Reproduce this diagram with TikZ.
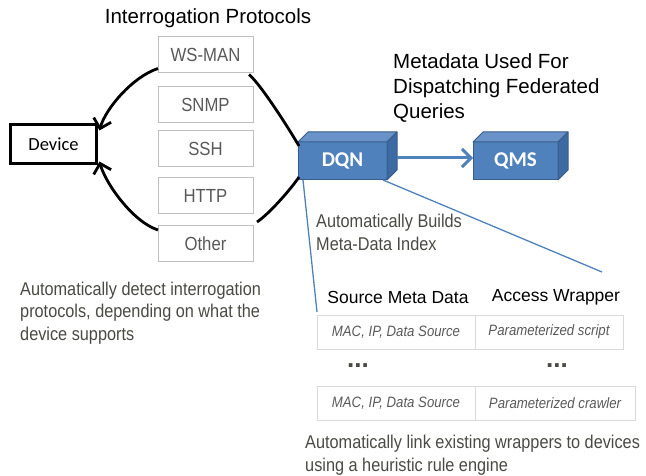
\documentclass[tikz,border=0pt]{standalone}
\usepackage{fontspec}
\setmainfont{Liberation Sans}
\newfontfamily\narrowsans[FakeStretch=0.88]{Liberation Sans}
\newfontfamily\calibrisans{Carlito}
\usetikzlibrary{arrows.meta}

\definecolor{cubeblue}{HTML}{4F81BD}
\definecolor{cubetop}{HTML}{6892C8}
\definecolor{cubeside}{HTML}{3D6AA3}
\definecolor{cubeedge}{HTML}{385D8A}
\definecolor{boxgray}{HTML}{BFBFBF}
\definecolor{cellgray}{HTML}{D9D9D9}
\definecolor{labelgray}{HTML}{595959}
\definecolor{notegray}{HTML}{4A4A44}

\tikzset{
  protobox/.style={draw=boxgray, line width=1pt, minimum width=95pt, minimum height=36pt,
    inner sep=0pt, outer sep=0pt, text=labelgray, font=\narrowsans\fontsize{19}{21}\selectfont},
  devbox/.style={draw=black, line width=2.8pt, minimum width=86pt, minimum height=39pt,
    inner sep=0pt, outer sep=0pt, font=\calibrisans\fontsize{18.5}{20}\selectfont},
  cubefront/.style={fill=cubeblue, draw=cubeedge, line width=1pt, minimum width=89pt,
    minimum height=38pt, inner sep=0pt, outer sep=0pt, text=white,
    font=\calibrisans\bfseries\fontsize{21}{23}\selectfont},
  cubeface/.style={draw=cubeedge, line width=1pt, line join=round},
  cellbox/.style={draw=cellgray, line width=1pt, minimum height=34pt, inner sep=0pt,
    outer sep=0pt, text=labelgray, font=\narrowsans\itshape\fontsize{15}{17}\selectfont},
  note/.style={anchor=west, align=left, inner sep=0pt, text=notegray,
    font=\narrowsans\fontsize{18.5}{22.5}\selectfont},
  headtext/.style={inner sep=0pt, font=\fontsize{17.5}{20}\selectfont},
  dots/.style={inner sep=0pt, text=notegray, font=\bfseries\fontsize{26}{28}\selectfont},
  protoarrow/.style={line width=2.8pt, -{Straight Barb[length=9pt,width=18pt]}},
  protoline/.style={line width=2.8pt},
  bluearrow/.style={draw=cubeblue, line width=3pt, -{Straight Barb[length=9pt,width=18pt]}},
  bluelink/.style={draw=cubeblue, line width=1.3pt},
}

\begin{document}
\begin{tikzpicture}[x=1pt,y=-1pt]
  \useasboundingbox (0,0) rectangle (646,476);

  % Interrogation protocols
  \node[inner sep=0pt, font=\fontsize{20.5}{23}\selectfont] (protoTitle) at (208,18) {Interrogation Protocols};
  \foreach \name/\lbl/\y in {wsman/WS-MAN/54.5, snmp/SNMP/104.5, ssh/SSH/148.5, http/HTTP/196, other/Other/244}
    \node[protobox] (\name) at (205.5,\y) {\lbl};

  \node[devbox] (device) at (53.5,144) {Device};

  % DQN and QMS blocks
  \node[cubefront] (dqn) at (342.5,161) {DQN};
  \node[cubefront, minimum width=85pt] (qms) at (515.5,161) {QMS};
  \foreach \c in {dqn,qms} {
    \draw[cubeface, fill=cubetop] (\c.north west) -- ([shift={(10,-10)}]\c.north west)
      -- ([shift={(10,-10)}]\c.north east) -- (\c.north east) -- cycle;
    \draw[cubeface, fill=cubeside] (\c.north east) -- ([shift={(10,-10)}]\c.north east)
      -- ([shift={(10,-10)}]\c.south east) -- (\c.south east) -- cycle;
  }
  \draw[bluearrow] ([shift={(10,-3)}]dqn.east) -- ([yshift=3pt]qms.west);

  % Curved connectors round the protocols
  \draw[protoarrow] ([yshift=4pt]wsman.south west) .. controls +(-25,8) and +(6,-22) .. ([shift={(3,6)}]device.north east);
  \draw[protoarrow] ([yshift=-4pt]other.north west) .. controls +(-25,-8) and +(6,22) .. ([shift={(3,-2)}]device.south east);
  \draw[protoline] ([shift={(-4,2)}]wsman.south east) .. controls +(12,10) and +(-8,-14) .. ([shift={(1,4)}]dqn.north west);
  \draw[protoline] ([shift={(4,-4)}]other.north east) .. controls +(12,-8) and +(-8,12) .. ([shift={(1,-3)}]dqn.south west);

  \node[anchor=west, align=left, inner sep=0pt, font=\fontsize{20.5}{25}\selectfont] (metaNote) at (393,88)
    {Metadata Used For\\Dispatching Federated\\Queries};

  % Meta-data index
  \coordinate (idxL) at (317,312);
  \coordinate (idxR) at (602,272);
  \draw[bluelink] ([xshift=5pt]dqn.south west) -- (idxL);
  \draw[bluelink] ([xshift=-4pt]dqn.south east) -- (idxR);
  \node[note] (buildNote) at (316,232.5) {Automatically Builds\\Meta-Data Index};

  \node[note] (detectNote) at (20,313) {Automatically detect interrogation\\protocols, depending on what the\\device supports};

  \node[headtext] (srcHead) at (398,297) {Source Meta Data};
  \node[headtext] (wrpHead) at (556,297) {Access Wrapper};

  \node[cellbox, minimum width=158pt] (src1) at (396,332) {MAC, IP, Data Source};
  \node[cellbox, minimum width=148pt, anchor=west] (wrp1) at (src1.east) {Parameterized script};
  \node[dots] (srcDots) at (358,366) {...};
  \node[dots] (wrpDots) at (557,366) {...};
  \node[cellbox, minimum width=158pt] (src2) at (396,403) {MAC, IP, Data Source};
  \node[cellbox, minimum width=160pt, anchor=west] (wrp2) at (src2.east) {Parameterized crawler};

  \node[note] (linkNote) at (305,455) {Automatically link existing wrappers to devices\\using a heuristic rule engine};
\end{tikzpicture}
\end{document}
